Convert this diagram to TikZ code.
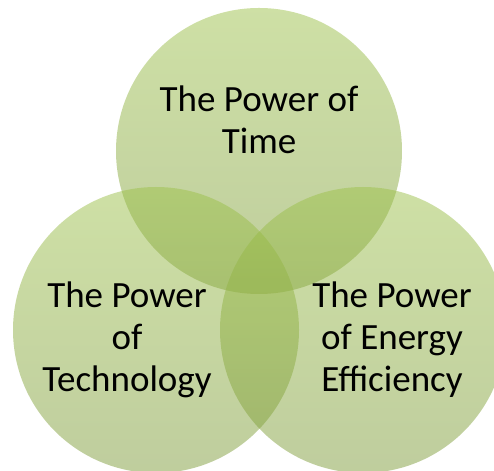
\documentclass[tikz,border=0pt]{standalone}
\usepackage{fontspec}
\setmainfont{Carlito}
\definecolor{ringtop}{RGB}{157,193,75}
\definecolor{ringbottom}{RGB}{127,156,60}
\begin{document}
\begin{tikzpicture}[x=1pt,y=1pt]
  \tikzset{
    ring/.style={top color=ringtop, bottom color=ringbottom, fill opacity=0.5, draw=none},
    ringtext/.style={align=center, inner sep=0pt, text=black,
      font=\fontsize{37}{42}\selectfont}
  }
  \useasboundingbox (0,0) rectangle (494,470);
  \clip (0,0) rectangle (494,470);
  % circle centres
  \coordinate (ctop)   at (259,319);
  \coordinate (cleft)  at (156,140);
  \coordinate (cright) at (363,140);
  % overlapping translucent discs
  \path[ring] (ctop)   circle[radius=143];
  \path[ring] (cleft)  circle[radius=143];
  \path[ring] (cright) circle[radius=143];
  % captions
  \node[ringtext] (ttime)   at (259,350) {The Power of\\Time};
  \node[ringtext] (ttech)   at (127,130) {The Power\\of\\Technology};
  \node[ringtext] (tenergy) at (392,130) {The Power\\of Energy\\Efficiency};
\end{tikzpicture}
\end{document}
